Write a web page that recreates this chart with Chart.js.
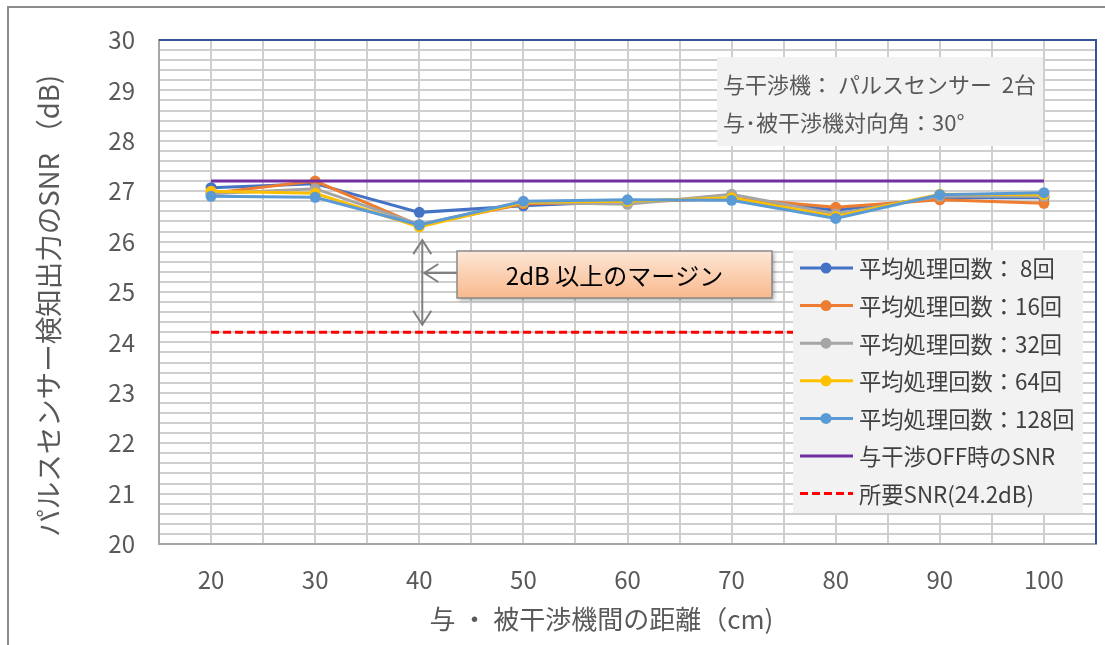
<!DOCTYPE html>
<html lang="ja">
<head>
<meta charset="UTF-8">
<title>パルスセンサー検知出力のSNR</title>
<style>
  body { margin: 0; background: #fff; }
  #wrap { position: relative; width: 1105px; height: 645px; }
</style>
</head>
<body>
<div id="wrap"><canvas id="snrChart" width="1105" height="645"></canvas></div>
<script src="https://cdn.jsdelivr.net/npm/chart.js"></script>
<script>
// 与・被干渉機間の距離 (cm)
const distances = [20, 30, 40, 50, 60, 70, 80, 90, 100];

// SNR (dB) per averaging count
const avg8   = [27.07, 27.15, 26.58, 26.71, 26.80, 26.86, 26.62, 26.87, 26.87];
const avg16  = [26.96, 27.20, 26.32, 26.75, 26.78, 26.86, 26.68, 26.83, 26.76];
const avg32  = [26.95, 27.05, 26.34, 26.78, 26.74, 26.94, 26.55, 26.90, 26.90];
const avg64  = [27.00, 26.96, 26.29, 26.78, 26.80, 26.87, 26.50, 26.94, 26.93];
const avg128 = [26.90, 26.88, 26.33, 26.80, 26.83, 26.82, 26.46, 26.93, 26.97];
const offSnr      = [27.2, 27.2, 27.2, 27.2, 27.2, 27.2, 27.2, 27.2, 27.2];
const requiredSnr = [24.2, 24.2, 24.2, 24.2, 24.2, 24.2, 24.2, 24.2, 24.2];

const seriesLabels = [
  '平均処理回数： 8回', '平均処理回数：16回', '平均処理回数：32回',
  '平均処理回数：64回', '平均処理回数：128回', '与干渉OFF時のSNR', '所要SNR(24.2dB)'
];
const seriesColors = ['#4472C4', '#ED7D31', '#A5A5A5', '#FFC000', '#5B9BD5', '#7030A0', '#FF0000'];

const infoLines = ['与干渉機： パルスセンサー  2台', '与･被干渉機対向角：30°'];
const marginNote = '2dB 以上のマージン';

const FONT = '"Noto Sans CJK JP", "Noto Sans", sans-serif';

function toPoints(values) {
  return distances.map((d, i) => ({ x: d, y: values[i] }));
}

const allSeries = [avg8, avg16, avg32, avg64, avg128, offSnr, requiredSnr];
const datasets = allSeries.map((vals, i) => {
  const ds = {
    label: seriesLabels[i],
    data: toPoints(vals),
    borderColor: seriesColors[i],
    backgroundColor: seriesColors[i],
    borderWidth: 3,
    pointRadius: i < 5 ? 5.5 : 0,
    pointBorderWidth: 0,
    tension: 0,
    order: allSeries.length - i   // later series on top, like Excel
  };
  if (i === 6) ds.borderDash = [8, 4];
  return ds;
});

function chevron(ctx, x, y, dx, dy) {
  // open arrow head, tip at (x, y), pointing in direction (dx, dy)
  const len = 14, half = 9;
  const px = -dy, py = dx;
  ctx.beginPath();
  ctx.moveTo(x - dx * len + px * half, y - dy * len + py * half);
  ctx.lineTo(x, y);
  ctx.lineTo(x - dx * len - px * half, y - dy * len - py * half);
  ctx.stroke();
}

const overlays = {
  id: 'overlays',
  beforeDraw(chart) {
    const ctx = chart.ctx;
    ctx.save();
    ctx.strokeStyle = '#8c8c8c';
    ctx.lineWidth = 2;
    ctx.strokeRect(8, 7, chart.width + 10, chart.height + 10);
    ctx.restore();
  },
  afterDraw(chart) {
    const ctx = chart.ctx;
    const a = chart.chartArea;
    const xs = chart.scales.x, ys = chart.scales.y;
    ctx.save();

    // plot area border (top / right)
    ctx.strokeStyle = '#2F5597';
    ctx.lineWidth = 2;
    ctx.beginPath();
    ctx.moveTo(a.left, a.top);
    ctx.lineTo(a.right, a.top);
    ctx.lineTo(a.right, a.bottom);
    ctx.stroke();

    // margin arrows
    const ax = xs.getPixelForValue(40) + 3;
    const yTop = ys.getPixelForValue(26.03);
    const yBot = ys.getPixelForValue(24.35);
    ctx.strokeStyle = '#808080';
    ctx.lineWidth = 2;
    ctx.beginPath();
    ctx.moveTo(ax, yTop);
    ctx.lineTo(ax, yBot);
    ctx.stroke();
    chevron(ctx, ax, yTop, 0, -1);
    chevron(ctx, ax, yBot, 0, 1);

    const bx = 457, by = 251, bw = 315, bh = 47;
    const ay = by + 22;
    ctx.beginPath();
    ctx.moveTo(bx, ay);
    ctx.lineTo(ax + 2, ay);
    ctx.stroke();
    chevron(ctx, ax + 2, ay, -1, 0);

    // margin note box
    ctx.save();
    ctx.shadowColor = 'rgba(0,0,0,0.35)';
    ctx.shadowBlur = 4;
    ctx.shadowOffsetX = 2;
    ctx.shadowOffsetY = 2;
    const g = ctx.createLinearGradient(0, by, 0, by + bh);
    g.addColorStop(0, '#FDE7D7');
    g.addColorStop(1, '#F9B98C');
    ctx.fillStyle = g;
    ctx.fillRect(bx, by, bw, bh);
    ctx.restore();
    ctx.strokeStyle = '#8a8a8a';
    ctx.lineWidth = 1.5;
    ctx.strokeRect(bx, by, bw, bh);
    ctx.fillStyle = '#000';
    ctx.font = '24px ' + FONT;
    ctx.textAlign = 'center';
    ctx.textBaseline = 'middle';
    ctx.fillText(marginNote, bx + bw / 2, by + bh / 2 + 1);

    // condition box
    ctx.fillStyle = '#F2F2F2';
    ctx.fillRect(717, 57, 326, 89);
    ctx.fillStyle = '#595959';
    ctx.font = '22px ' + FONT;
    ctx.textAlign = 'left';
    ctx.fillText(infoLines[0], 723, 85);
    ctx.fillText(infoLines[1], 723, 123);

    // legend box
    const lx = 793, ly = 250, lw = 290, lh = 263;
    ctx.fillStyle = '#F2F2F2';
    ctx.fillRect(lx, ly, lw, lh);
    ctx.font = '22.3px ' + FONT;
    chart.data.datasets.forEach((ds, i) => {
      const y = 268 + i * 37.6;
      ctx.strokeStyle = ds.borderColor;
      ctx.lineWidth = 3;
      ctx.setLineDash(ds.borderDash || []);
      ctx.beginPath();
      ctx.moveTo(800, y);
      ctx.lineTo(853, y);
      ctx.stroke();
      ctx.setLineDash([]);
      if (ds.pointRadius > 0) {
        ctx.fillStyle = ds.backgroundColor;
        ctx.beginPath();
        ctx.arc(826, y, 5.5, 0, Math.PI * 2);
        ctx.fill();
      }
      ctx.fillStyle = '#404040';
      ctx.fillText(ds.label, 859, y + 1);
    });

    ctx.restore();
  }
};

new Chart(document.getElementById('snrChart'), {
  type: 'line',
  data: { datasets },
  plugins: [overlays],
  options: {
    responsive: false,
    animation: false,
    layout: { padding: { top: 40, right: 9, bottom: 0, left: 0 } },
    plugins: { legend: { display: false }, tooltip: { enabled: false } },
    scales: {
      x: {
        type: 'linear',
        min: 15,
        max: 105,
        afterFit: s => { s.height = 101; s.paddingLeft = 0; s.paddingRight = 0; },
        ticks: {
          stepSize: 5,
          autoSkip: false,
          maxRotation: 0,
          padding: 21,
          color: '#595959',
          font: { family: FONT, size: 24 },
          callback: v => (v % 10 === 0 && v >= 20 && v <= 100) ? String(v) : ''
        },
        grid: { color: '#cfcfcf', lineWidth: 2, drawTicks: false },
        border: { color: '#a6a6a6', width: 2 },
        title: {
          display: true,
          text: '与 ・ 被干渉機間の距離（cm)　　',
          color: '#595959',
          font: { family: FONT, size: 26 },
          padding: { top: 0, bottom: 10 }
        }
      },
      y: {
        min: 20,
        max: 30,
        afterFit: s => { s.width = 159; s.paddingTop = 0; s.paddingBottom = 0; },
        ticks: {
          stepSize: 0.2,
          autoSkip: false,
          padding: 24,
          color: '#595959',
          font: { family: FONT, size: 24 },
          callback: v => Math.abs(v - Math.round(v)) < 1e-6 ? String(Math.round(v)) : ''
        },
        grid: { color: '#cfcfcf', lineWidth: 2, drawTicks: false },
        border: { color: '#a6a6a6', width: 2 },
        title: {
          display: true,
          text: 'パルスセンサー検知出力のSNR （dB)　',
          color: '#595959',
          font: { family: FONT, size: 27.5 },
          padding: { top: 32, bottom: 0 }
        }
      }
    }
  }
});
</script>
</body>
</html>
